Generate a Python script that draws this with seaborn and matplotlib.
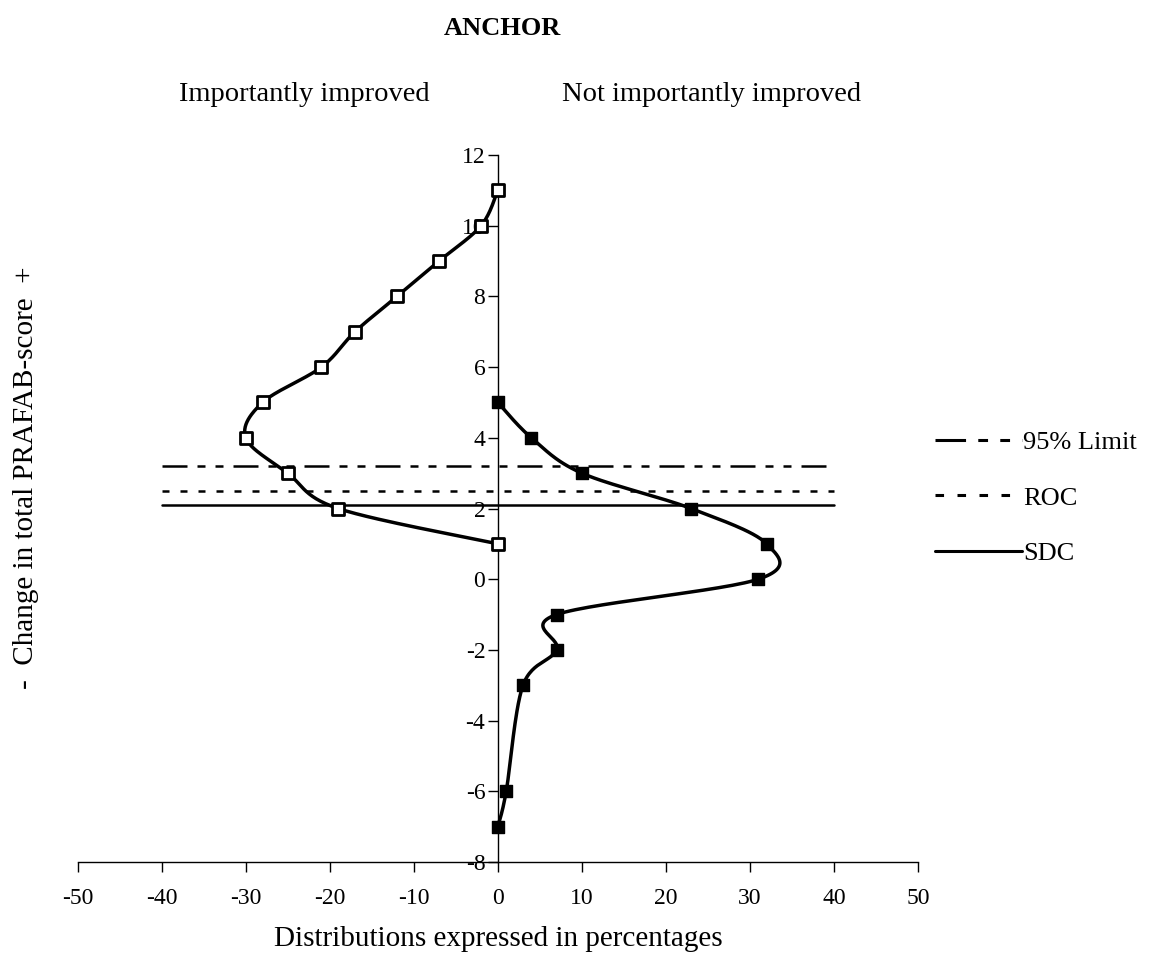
import numpy as np
import pandas as pd
import matplotlib
matplotlib.use("Agg")
import matplotlib.pyplot as plt
import seaborn as sns

# ---- data ----
improved_x = [0, -2, -7, -12, -17, -21, -28, -30, -25, -19, 0]
improved_y = [11, 10, 9, 8, 7, 6, 5, 4, 3, 2, 1]
not_improved_x = [0, 4, 10, 23, 32, 31, 7, 7, 3, 1, 0]
not_improved_y = [5, 4, 3, 2, 1, 0, -1, -2, -3, -6, -7]
limit_names = ["95% Limit", "ROC", "SDC"]
limit_values = [3.2, 2.5, 2.1]
x_ticks = [-50, -40, -30, -20, -10, 0, 10, 20, 30, 40, 50]
y_ticks = [-8, -6, -4, -2, 0, 2, 4, 6, 8, 10, 12]

sns.set_theme(style="white")
plt.rcParams['font.family'] = ['Liberation Serif', 'DejaVu Serif']
plt.rcParams['axes.unicode_minus'] = False
plt.rcParams['text.color'] = 'black'
plt.rcParams['axes.labelcolor'] = 'black'

fig = plt.figure(figsize=(11.6, 9.66), dpi=100)
ax = fig.add_axes([0.067, 0.1077, 0.7243, 0.7318])


def smooth_path(xs, ys, n=30):
    # Excel-style smoothed line (cardinal Bezier through the points), in screen-like units
    sxf, syf = 0.084, 0.352
    P = np.column_stack([np.asarray(xs, float) * sxf, np.asarray(ys, float) * syf])
    out = []
    for i in range(len(P) - 1):
        p0 = P[i - 1] if i > 0 else P[i]
        p1, p2 = P[i], P[i + 1]
        p3 = P[i + 2] if i + 2 < len(P) else P[i + 1]
        c1 = p1 + (p2 - p0) / 6.0
        c2 = p2 - (p3 - p1) / 6.0
        t = np.linspace(0, 1, n)[:, None]
        seg = ((1 - t) ** 3) * p1 + 3 * ((1 - t) ** 2) * t * c1 + 3 * (1 - t) * t ** 2 * c2 + t ** 3 * p2
        out.append(seg if i == 0 else seg[1:])
    out = np.vstack(out)
    return out[:, 0] / sxf, out[:, 1] / syf


# limit lines
styles = {"95% Limit": (0, (10, 4, 3.2, 4, 3.2, 4)), "ROC": (0, (2.8, 4.4)), "SDC": "-"}
for name, val in zip(limit_names, limit_values):
    ax.plot([-40, 40], [val, val], color="black", lw=1.8, linestyle=styles[name], label=name)

sx, sy = smooth_path(improved_x, improved_y)
ax.plot(sx, sy, color="black", lw=2.5, zorder=3)
sx, sy = smooth_path(not_improved_x, not_improved_y)
ax.plot(sx, sy, color="black", lw=2.5, zorder=3)

df_imp = pd.DataFrame({"x": improved_x, "y": improved_y})
df_not = pd.DataFrame({"x": not_improved_x, "y": not_improved_y})
sns.scatterplot(data=df_imp, x="x", y="y", marker="s", s=70, color="white",
                edgecolor="black", linewidth=2, ax=ax, zorder=4)
sns.scatterplot(data=df_not, x="x", y="y", marker="s", s=70, color="black",
                edgecolor="black", linewidth=1, ax=ax, zorder=4)

ax.set_xlim(-50, 50)
ax.set_ylim(-8, 12)
ax.set_xticks(x_ticks)
ax.set_yticks(y_ticks)
ax.spines['left'].set_position(('data', 0))
ax.spines['top'].set_visible(False)
ax.spines['right'].set_visible(False)
for s in ['left', 'bottom']:
    ax.spines[s].set_color('black')
    ax.spines[s].set_linewidth(1.0)
ax.tick_params(axis='both', direction='out', length=7, width=1, color='black',
               labelsize=17, labelcolor='black', bottom=True, left=True)
ax.tick_params(axis='x', pad=12)
ax.tick_params(axis='y', pad=2)
ax.set_xlabel("Distributions expressed in percentages", fontsize=21, labelpad=12)
ax.set_ylabel("")
ax.grid(False)

fig.text(0.022, 0.505, "-  Change in total PRAFAB-score  +", rotation=90,
         fontsize=21, ha='center', va='center')
fig.text(0.433, 0.971, "ANCHOR", fontsize=19, fontweight='bold', ha='center', va='center')
fig.text(0.262, 0.902, "Importantly improved", fontsize=20.5, ha='center', va='center')
fig.text(0.613, 0.902, "Not importantly improved", fontsize=20.5, ha='center', va='center')

leg = ax.legend(loc='center left', bbox_to_anchor=(0.992, 0.515), frameon=False,
                fontsize=19, handlelength=3.3, handletextpad=0.05, labelspacing=1.2)
for line in leg.get_lines():
    line.set_linewidth(2.2)

fig.savefig("out.png", dpi=100)
